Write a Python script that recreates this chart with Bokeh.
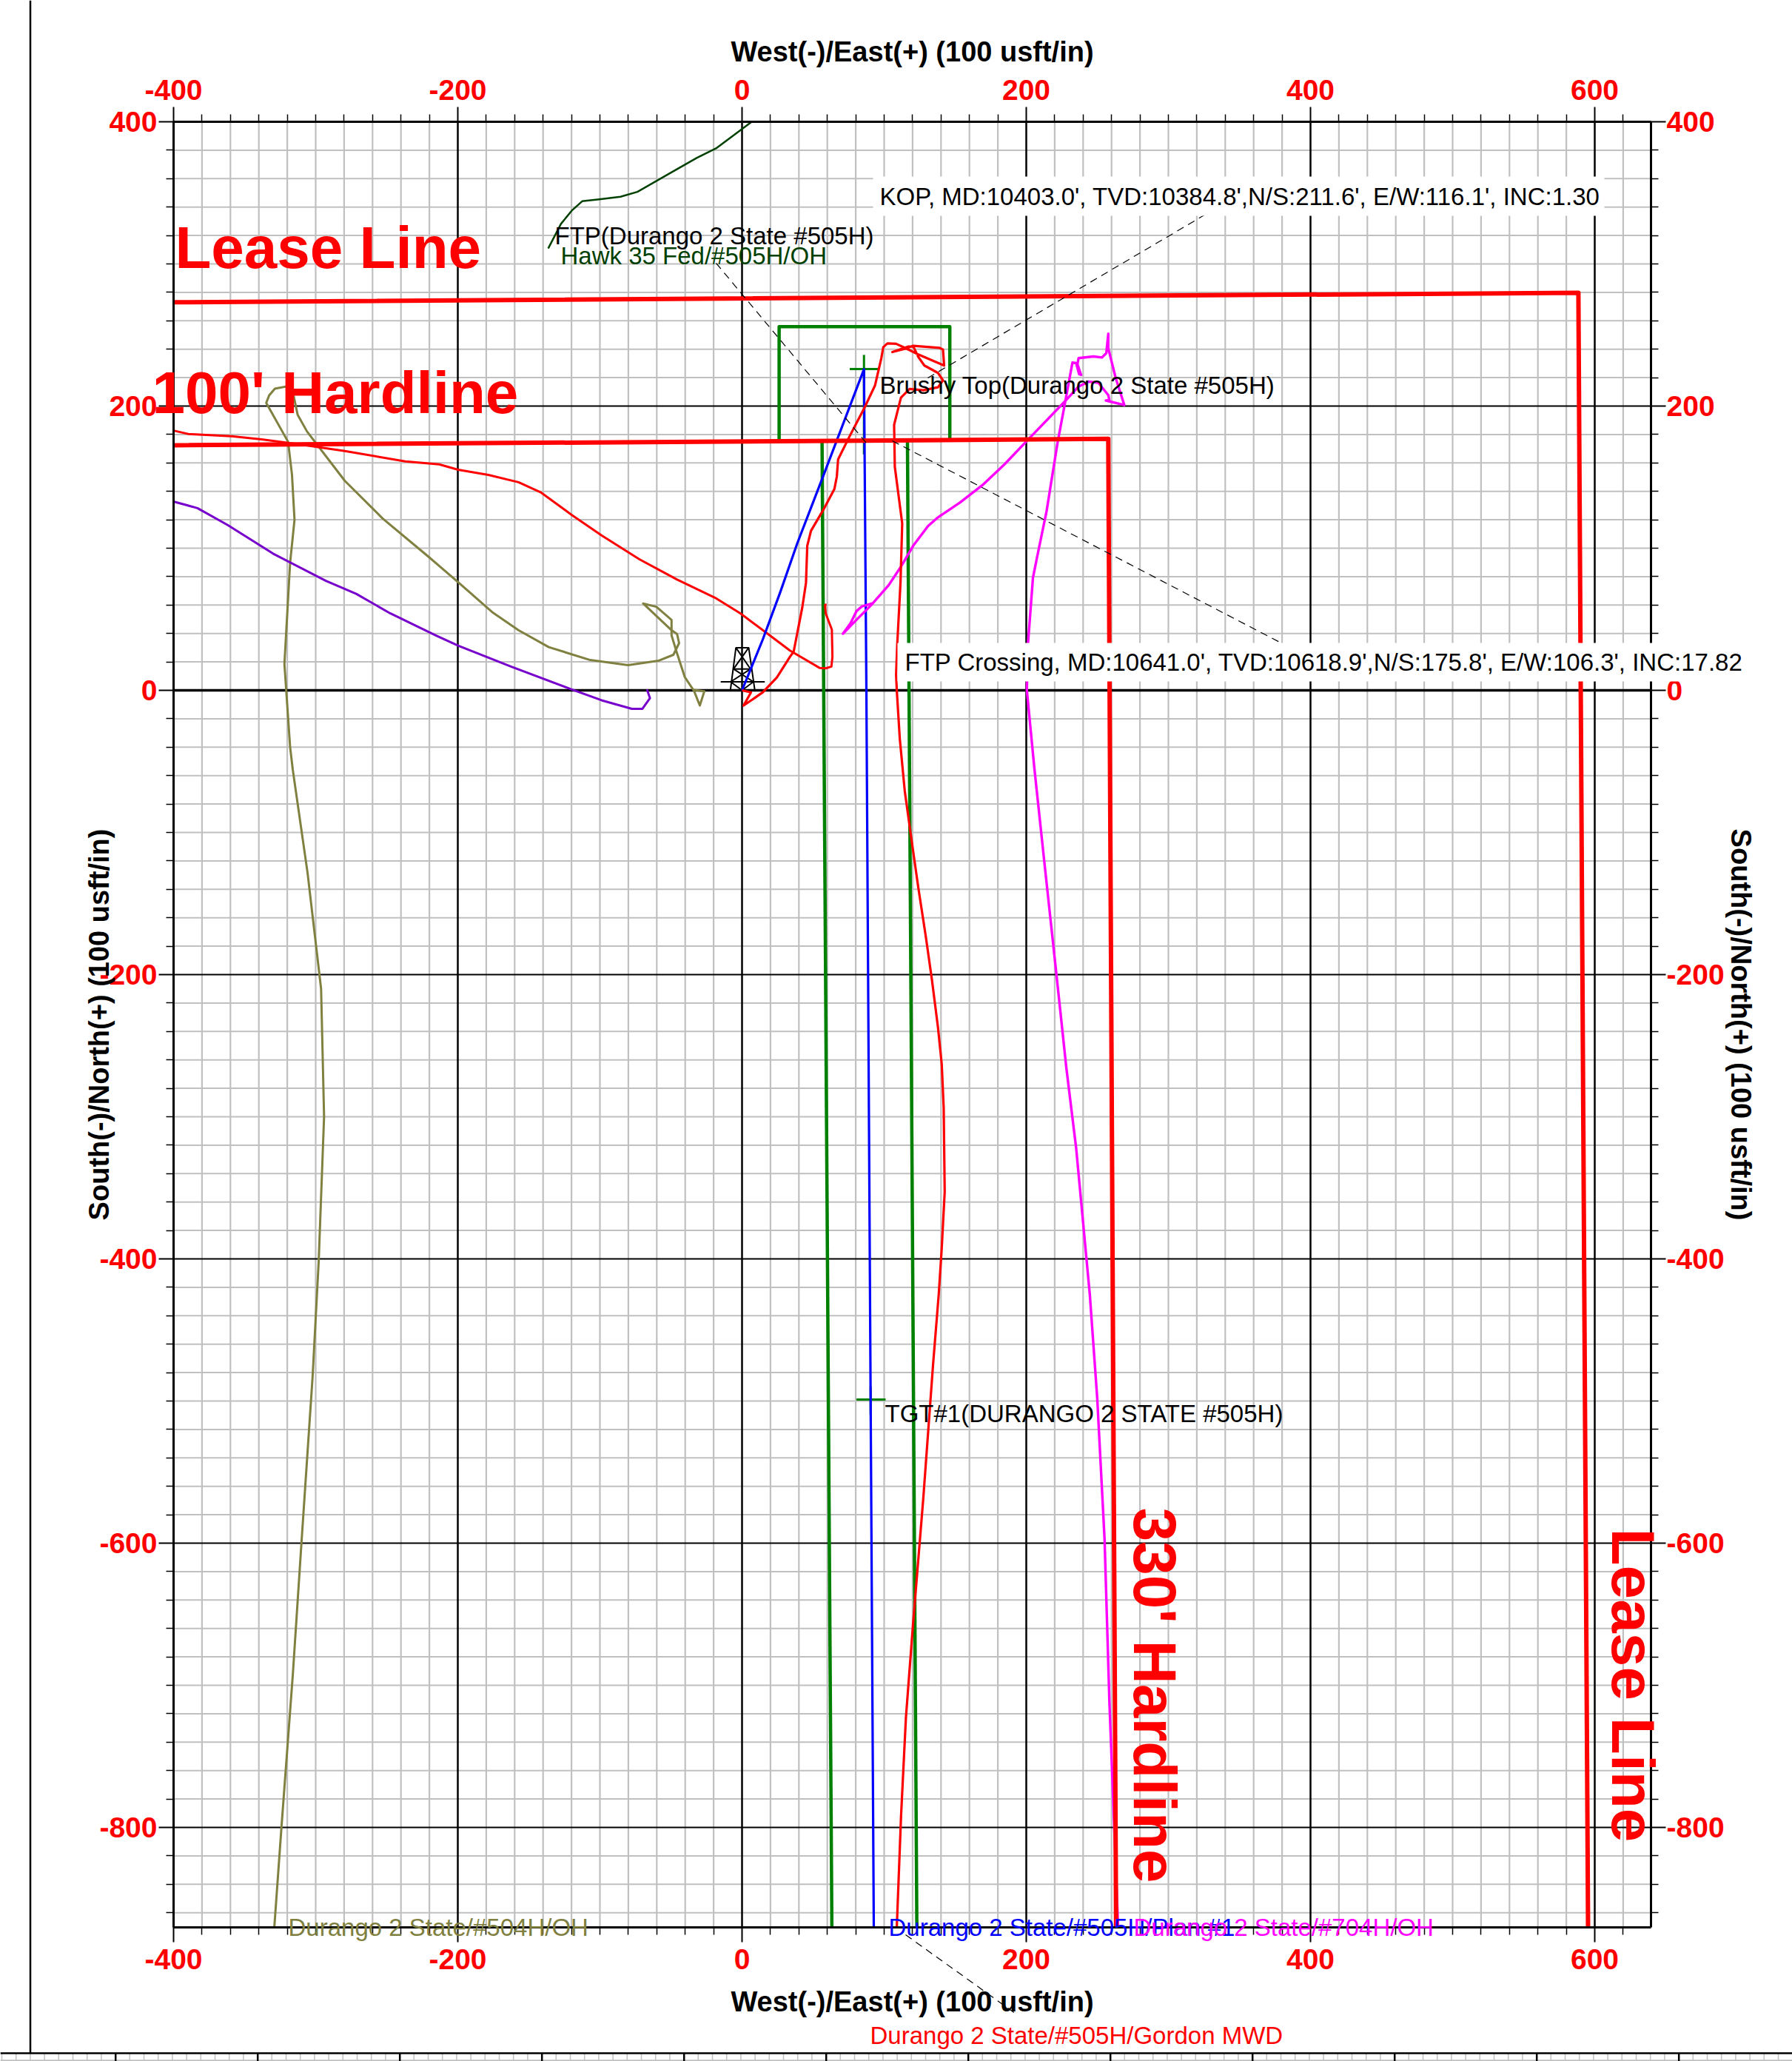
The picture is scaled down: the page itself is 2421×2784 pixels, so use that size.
import math
import numpy as np
from bokeh.embed import file_html
from bokeh.models import BoxAnnotation, FixedTicker, Label, LinearAxis, Range1d
from bokeh.plotting import figure
from bokeh.resources import INLINE

# ---- axis ticks ----
x_major = [-400, -200, 0, 200, 400, 600]
x_minor = [v for v in range(-400, 640, 20) if v not in x_major]
y_major = [-800, -600, -400, -200, 0, 200, 400]
y_minor = [v for v in range(-860, 401, 20) if v not in y_major]
x_min, x_max = -400, 639.6
y_min, y_max = -870.3, 400

# ---- lease / hardline ----
lease_x = [-400, 589, 595.8]
lease_y = [273, 279.7, -870]
hard_x = [-400, 258.2, 263.7]
hard_y = [172.4, 176.9, -870]
box_x = [26.6, 26.6, 146.7, 146.7]
box_y = [176, 255.8, 255.8, 176]
corr_l_x = [56.8, 63.7]
corr_l_y = [175, -870]
corr_r_x = [116.9, 123.5]
corr_r_y = [175, -870]

# ---- plan ----
plan_x = [0.5, 15.1, 27.3, 39.4, 56.8, 86.3, 88, 93.2]
plan_y = [0, 35.8, 68.8, 103.5, 148.6, 225.9, 0, -870]

# ---- Durango 2 State #505H Gordon MWD ----
r505_x = [0.5, 6.8, 1.6, 15.1, 25, 34.5, 36.8, 42.9, 45.5, 46.4, 49, 57.7, 65.5, 67.2, 68.1, 75.9, 87.2,
          94.1, 98.5, 99.9, 102.8, 108.9, 115, 124.5, 142.7, 141.9, 139.3, 121, 115, 106.3, 117.6, 121,
          124.5, 128.8, 138.4, 141.9, 138.4, 128, 118.4, 112.3, 107.5, 108, 113.2, 112, 109.7, 108.9,
          109.4, 111.5, 115, 119.3, 124.5, 129.7, 134.1, 138.4, 141, 142.4, 143.1, 141, 138.9, 134.9,
          128, 121, 115.8, 112.4, 109.4]
r505_y = [0, -1.4, -10.7, -1.4, 9, 24, 27.1, 58.4, 75.7, 101.8, 112.2, 127, 141.7, 150.4, 162.5, 178.2, 199.9,
          214.6, 233.7, 241.5, 244.1, 243.8, 241, 236.3, 228.5, 239.8, 241, 242.4, 240.3, 238, 241.9, 242,
          234.6, 228.5, 223.3, 218.1, 213.2, 211.1, 212, 205.9, 186.8, 157.3, 117.4, 75.7, 32.3, 11,
          -0.2, -34, -70.8, -101.9, -138.6, -172.5, -203.5, -237.4, -262.8, -293.9, -353, -392.7, -425, -474.6,
          -568.9, -654.6, -723, -791.7, -870]

# ---- red west lateral ----
rw_x = [-399, -389.3, -358.7, -337.5, -310.9, -279, -236.5, -212.6, -199.3, -178, -156.8, -140.8, -119.6,
        -98.3, -71.7, -45.2, -18.6, -0.5, 16.9, 34.2, 55, 59.4, 63.4, 64.1, 63.7, 59.4, 58.9, 60]
rw_y = [182.6, 180.4, 178.8, 176.6, 173.1, 168.4, 161.1, 159, 155.2, 151.6, 146.4, 139.1, 123.6,
        109, 92.2, 77.9, 65.2, 54, 41, 28, 15.8, 15.5, 16.7, 23.6, 42.7, 54, 60.1, 60.4]

# ---- magenta Durango 2 State #704H ----
mag_x = [92.4, 84.6, 81.1, 76.8, 71.5, 81.1, 91.5, 103.7, 112.3, 121, 131.4, 138.4, 154, 169.6, 185.3, 202.6,
         226.9, 237.3, 244.3, 251.2, 258.2, 259, 256.5, 269.5, 263.4, 258.2, 258.2, 256.8, 253.8, 247.8, 237.3,
         236.5, 239.1, 237.7, 235.6, 233, 227.8, 222.6, 214.8, 208.7, 205.2, 201.8, 200.9, 206.1, 213, 220.9,
         228.7, 235.6, 245.2, 250.4, 255.6, 259, 265.1]
mag_y = [61.3, 58.9, 55.8, 47.1, 39.8, 49.7, 60.1, 74, 87, 101.8, 115.6, 121.7, 132.2, 144.3, 159.1, 177.3,
         202.5, 213.7, 217.2, 216.4, 207.7, 204.2, 203.9, 200.7, 219.8, 240.7, 251, 237.2, 234.2, 234.9, 233.7,
         229.4, 221.9, 222.4, 230.2, 230.6, 202.5, 174.7, 126.1, 96.6, 79.2, 34.1, 0.2, -53.9, -118.8, -192.2,
         -265.6, -322.1, -425, -497.4, -597.4, -711.7, -870]

# ---- purple ----
pur_x = [-399.1, -382.7, -361.4, -329.5, -292.3, -271, -247.1, -215.2, -199.3, -162.1, -119.6, -98.3, -77,
         -69.6, -64.3, -66.4]
pur_y = [132.7, 128.2, 116.3, 96.2, 77, 67.9, 54.2, 38.7, 31.4, 16.7, 0.7, -7, -13, -13, -5.5, 0.7]

# ---- olive Durango 2 State #504H ----
olv_x = [-33.2, -26, -29.2, -33.2, -39.8, -45.2, -49.1, -49.1, -59.8, -69.1, -49.1, -45.2, -43.8, -47.8, -58.4,
         -79.7, -106.3, -135.5, -156.8, -175.4, -199.3, -220.6, -252.4, -279, -305.6, -312.2, -314.9, -318.9,
         -328.2, -332.2, -334.3, -318.9, -316.2, -314.4, -317.5, -321.5, -317.5, -315.6, -305.2, -295.7, -293.6,
         -297.4, -301.7, -309.5, -315.6, -323.4, -328.6]
olv_y = [0.3, -0.6, -10.7, -0.6, 9.4, 25.9, 38.7, 49.6, 58.8, 61.1, 42.3, 39.6, 33.2, 25, 20.8,
         17.7, 21.3, 30.4, 42.3, 55.1, 76.1, 94.4, 120.9, 147.4, 182.1, 193.9, 206.7, 214,
         212.2, 207.6, 202.2, 174.8, 151.9, 120, 89.8, 18.6, -39.9, -56, -128.6, -210, -300,
         -402, -483.3, -599.6, -692.6, -797.3, -870]

# ---- dark green Hawk 35 Fed ----
hawk_x = [-135.9, -126.9, -119.4, -112, -100, -85, -73.1, -52.2, -31.2, -17.8, 7.3]
hawk_y = [310.9, 328.2, 337.4, 344.1, 345.4, 347.3, 350.7, 362.7, 374.7, 381.3, 400]

# ---- targets ----
cross_h = [([76.3, 96.3], [226, 226]), ([81, 101.5], [-499, -499])]
cross_v = [([86.3, 86.3], [236, 166]), ([91, 91], [-490, -509.5])]

# ---- surface rig ----
rig_x = [[-8.2, -4.3, 4.7, 9], [-15, 16], [-4.3, 6, -8, 0, 8, -6, 4.7], [-6.5, 6.5]]
rig_y = [[0, 30, 30, 0], [6, 6], [30, 15, 6, 0, 6, 15, 30], [15, 15]]

# ---- texts ----
big_texts = [
    ("Lease Line", 236, 334, 0, "80px"),
    ("100' Hardline", 205, 530, 0, "80px"),
    ("330' Hardline", 1560, 2036, -90, "82px"),
    ("Lease Line", 2206, 2064, -90, "82px"),
]
notes = [
    ("Brushy Top(Durango 2 State #505H)", 1188, 520, "black"),
    ("TGT#1(DURANGO 2 STATE #505H)", 1195, 1909, "black"),
    ("FTP(Durango 2 State #505H)", 749, 318, "black"),
    ("Hawk 35 Fed/#505H/OH", 757, 345, "#004000"),
    ("Durango 2 State/#504H/OH", 389, 2603, "#808040"),
    ("Durango 2 State/#505H/Plan #1", 1200, 2603, "#0000ff"),
    ("Durango 2 State/#704H/OH", 1531, 2603, "#ff00ff"),
    ("Durango 2 State/#505H/Gordon MWD", 1175, 2749, "#ff0000"),
]
boxed = [
    ("KOP, MD:10403.0', TVD:10384.8',N/S:211.6', E/W:116.1', INC:1.30", 1188, 265, 1179, 2167, 238, 291),
    ("FTP Crossing, MD:10641.0', TVD:10618.9',N/S:175.8', E/W:106.3', INC:17.82", 1222, 894, 1212, 2355, 868, 920),
]
leaders = [(1253, 510, 1630, 288), (967, 355, 1170, 598), (1205, 595, 1740, 873), (1223, 2613, 1375, 2722)]

FONT = "Liberation Sans"
TITLE_X = "West(-)/East(+) (100 usft/in)"
TITLE_Y = "South(-)/North(+) (100 usft/in)"


def X(px):
    return (px - 1002) / 1.92


def Y(py):
    return (932 - py) / 1.92


p = figure(frame_width=2421, frame_height=2784, x_range=Range1d(X(0), X(2421)), y_range=Range1d(Y(2784), Y(0)),
           min_border=0, x_axis_type=None, y_axis_type=None,
           toolbar_location=None, output_backend="svg", outline_line_color=None)

xt = FixedTicker(ticks=x_major, minor_ticks=x_minor)
yt = FixedTicker(ticks=y_major, minor_ticks=y_minor)
x_labels = {v: str(v) for v in x_major}
y_labels = {v: str(v) for v in y_major}
axes = [
    (LinearAxis(fixed_location=y_max, bounds=(x_min, x_max), ticker=xt, major_label_overrides=x_labels,
                axis_label=TITLE_X, major_label_standoff=10, axis_label_standoff=14), "above"),
    (LinearAxis(fixed_location=y_min, bounds=(x_min, x_max), ticker=xt, major_label_overrides=x_labels,
                axis_label=TITLE_X, major_label_standoff=10, axis_label_standoff=19), "below"),
    (LinearAxis(fixed_location=x_min, bounds=(y_min, y_max), ticker=yt, major_label_overrides=y_labels,
                axis_label=TITLE_Y, major_label_standoff=2, axis_label_standoff=-24), "left"),
    (LinearAxis(fixed_location=x_max, bounds=(y_min, y_max), ticker=yt, major_label_overrides=y_labels,
                axis_label=TITLE_Y, major_label_standoff=1, axis_label_standoff=-2), "right"),
]
for ax, side in axes:
    ax.major_label_text_font = FONT
    ax.major_label_text_font_size = "39px"
    ax.major_label_text_font_style = "bold"
    ax.major_label_text_color = "#ff0000"
    ax.major_tick_out = 20
    ax.major_tick_in = 0
    ax.minor_tick_out = 10
    ax.minor_tick_in = 0
    ax.major_tick_line_width = 2
    ax.minor_tick_line_width = 1.5
    ax.major_tick_line_color = "black"
    ax.minor_tick_line_color = "black"
    ax.axis_line_color = "black"
    ax.axis_line_width = 3
    ax.axis_label_text_font = FONT
    ax.axis_label_text_font_size = "38px"
    ax.axis_label_text_font_style = "bold"
    ax.axis_label_text_color = "black"
    p.add_layout(ax, side)

# grid, limited to the plot area
p.segment(x0=x_minor, y0=y_min, x1=x_minor, y1=y_max, line_color="#c0c0c0", line_width=2.2)
p.segment(x0=x_min, y0=y_minor, x1=x_max, y1=y_minor, line_color="#c0c0c0", line_width=2)
p.segment(x0=x_major, y0=y_min, x1=x_major, y1=y_max, line_color="black", line_width=2.5)
p.segment(x0=x_min, y0=y_major, x1=x_max, y1=y_major, line_color="black", line_width=2.2)
p.segment(x0=x_min, y0=0, x1=x_max, y1=0, line_color="black", line_width=3.5)


def path(xs, ys, color, width):
    p.line(x=np.array(xs) - 0.5, y=ys, line_color=color, line_width=width, line_join="round")


path(corr_l_x, corr_l_y, "#008000", 4.5)
path(corr_r_x, corr_r_y, "#008000", 4.5)
path(box_x, box_y, "#008000", 4.5)
for cx, cy in cross_h + cross_v:
    path(cx, cy, "#008000", 3)
path(hawk_x, hawk_y, "#004000", 2.5)
path(olv_x, olv_y, "#808040", 3)
path(pur_x, pur_y, "#7700cc", 3)
path(rw_x, rw_y, "#ff0000", 3)
p.multi_line(xs=rig_x, ys=rig_y, line_color="black", line_width=2)
path(plan_x, plan_y, "#0000ff", 3.2)
path(mag_x, mag_y, "#ff00ff", 3.4)
path(r505_x, r505_y, "#ff0000", 3.2)
path(lease_x, lease_y, "#ff0000", 6)
path(hard_x, hard_y, "#ff0000", 6)


def segs(segments, color, width, dash="solid"):
    p.segment(x0=[X(s[0]) for s in segments], y0=[Y(s[1]) for s in segments],
              x1=[X(s[2]) for s in segments], y1=[Y(s[3]) for s in segments],
              line_color=color, line_width=width, line_dash=dash)


segs(leaders, "black", 1.2, "10 7")

# the neighbouring sheet visible at the page's edge
segs([(2 + 19.2 * k, 2773, 2 + 19.2 * k, 2784) for k in range(127)], "#c0c0c0", 1.5)
segs([(0, 2783, 2421, 2783)], "#c0c0c0", 2.5)
segs([(155.7 + 192 * k, 2773, 155.7 + 192 * k, 2784) for k in range(12)], "black", 2.5)
segs([(0, 2773, 2421, 2773), (40.5, 0, 40.5, 2773)], "black", 2.5)

for text, tx, ty, x0, x1, y0, y1 in boxed:
    p.add_layout(BoxAnnotation(left=X(x0), right=X(x1), top=Y(y0), bottom=Y(y1),
                               fill_color="white", fill_alpha=1, line_color=None))
    p.add_layout(Label(x=X(tx), y=Y(ty), text=text, text_font=FONT, text_font_size="33px",
                       text_color="black", text_align="left", text_baseline="middle"))

for text, tx, ty, color in notes:
    p.add_layout(Label(x=X(tx), y=Y(ty), text=text, text_font=FONT, text_font_size="33px",
                       text_color=color, text_align="left", text_baseline="middle"))

for text, tx, ty, deg, size in big_texts:
    p.add_layout(Label(x=X(tx), y=Y(ty), text=text, text_font=FONT, text_font_size=size,
                       text_font_style="bold", text_color="#ff0000", angle=math.radians(deg),
                       text_align="left", text_baseline="alphabetic"))

open("out.html", "w").write(file_html(p, INLINE))
